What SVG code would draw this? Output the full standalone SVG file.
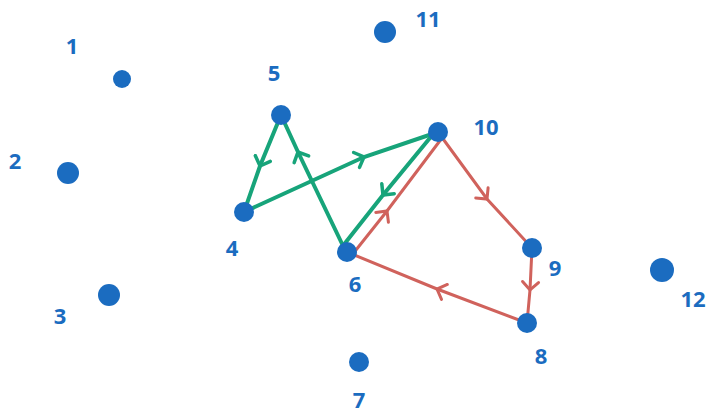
<svg xmlns="http://www.w3.org/2000/svg" width="711" height="414" viewBox="0 0 711 414">
<style>
.dot{fill:#1b6cc0}
.lbl{fill:#1b6cc0;font-family:"Noto Sans",sans-serif;font-weight:bold;font-size:22px;text-anchor:middle;dominant-baseline:central}
.g{stroke:#17a47a;stroke-width:4;fill:none;stroke-linecap:round}
.r{stroke:#d0625c;stroke-width:3;fill:none;stroke-linecap:round}
</style>
<defs>
<marker id="ag" markerUnits="userSpaceOnUse" markerWidth="20" markerHeight="20" viewBox="-10 -10 20 20" refX="0" refY="0" orient="auto">
<path d="M-8,-8 L0,0 L-8,8" fill="none" stroke="#17a47a" stroke-width="3.5" stroke-linecap="round"/>
</marker>
<marker id="ar" markerUnits="userSpaceOnUse" markerWidth="20" markerHeight="20" viewBox="-10 -10 20 20" refX="0" refY="0" orient="auto">
<path d="M-8,-8 L0,0 L-8,8" fill="none" stroke="#d0625c" stroke-width="3" stroke-linecap="round"/>
</marker>
</defs>
<rect width="711" height="414" fill="#ffffff"/>
<g id="connectors">
<polyline class="r" points="352,255 387,211 442,138" marker-mid="url(#ar)"/>
<polyline class="r" points="438,132 487,199 532,248" marker-mid="url(#ar)"/>
<polyline class="r" points="532,248 530,290 527,323" marker-mid="url(#ar)"/>
<polyline class="r" points="527,323 437,289 347,252" marker-mid="url(#ar)"/>
<polyline class="g" points="281,115 260,166 244,212" marker-mid="url(#ag)"/>
<polyline class="g" points="244,212 364,157 438,132" marker-mid="url(#ag)"/>
<polyline class="g" points="345,250 298,152 281,115" marker-mid="url(#ag)"/>
<polyline class="g" points="434,133 383,195 342,247" marker-mid="url(#ag)"/>
</g>
<g id="n1"><circle class="dot" cx="122" cy="79" r="9"/><text class="lbl" x="72" y="45">1</text></g>
<g id="n2"><circle class="dot" cx="68" cy="173" r="11"/><text class="lbl" x="15" y="160">2</text></g>
<g id="n3"><circle class="dot" cx="109" cy="295" r="11"/><text class="lbl" x="60" y="315">3</text></g>
<g id="n4"><circle class="dot" cx="244" cy="212" r="10"/><text class="lbl" x="232" y="247">4</text></g>
<g id="n5"><circle class="dot" cx="281" cy="115" r="10"/><text class="lbl" x="274" y="72">5</text></g>
<g id="n6"><circle class="dot" cx="347" cy="252" r="10"/><text class="lbl" x="355" y="283">6</text></g>
<g id="n7"><circle class="dot" cx="359" cy="362" r="10"/><text class="lbl" x="359" y="399">7</text></g>
<g id="n8"><circle class="dot" cx="527" cy="323" r="10"/><text class="lbl" x="541" y="355">8</text></g>
<g id="n9"><circle class="dot" cx="532" cy="248" r="10"/><text class="lbl" x="555" y="267">9</text></g>
<g id="n10"><circle class="dot" cx="438" cy="132" r="10"/><text class="lbl" x="486" y="126">10</text></g>
<g id="n11"><circle class="dot" cx="385" cy="32" r="11"/><text class="lbl" x="428" y="18">11</text></g>
<g id="n12"><circle class="dot" cx="662" cy="270" r="12"/><text class="lbl" x="693" y="298">12</text></g>
</svg>
